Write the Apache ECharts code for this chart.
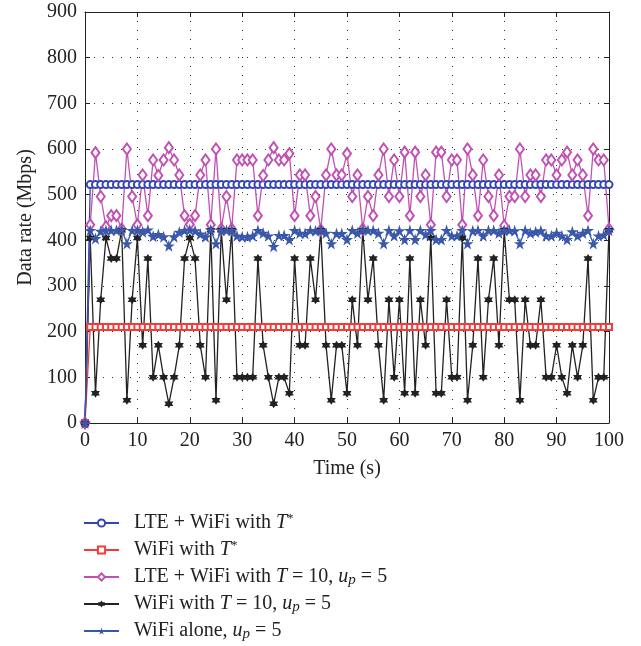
<!DOCTYPE html>
<html>
<head>
<meta charset="utf-8">
<script src="https://cdn.jsdelivr.net/npm/echarts@6/dist/echarts.min.js"></script>
<style>
html,body{margin:0;padding:0;background:#fff;}
#chart{width:641px;height:646px;}
</style>
</head>
<body>
<div id="chart"></div>
<script>
// ---- data ----
const time = [0,1,2,3,4,5,6,7,8,9,10,11,12,13,14,15,16,17,18,19,20,21,22,23,24,25,26,27,28,29,30,31,32,33,34,35,36,37,38,39,40,41,42,43,44,45,46,47,48,49,50,51,52,53,54,55,56,57,58,59,60,61,62,63,64,65,66,67,68,69,70,71,72,73,74,75,76,77,78,79,80,81,82,83,84,85,86,87,88,89,90,91,92,93,94,95,96,97,98,99,100];

const seriesNames = [
  'LTE + WiFi with T*',
  'WiFi with T*',
  'LTE + WiFi with T = 10, u_p = 5',
  'WiFi with T = 10, u_p = 5',
  'WiFi alone, u_p = 5'
];

const lteWifiOpt = [0,522,522,522,522,522,522,522,522,522,522,522,522,522,522,522,522,522,522,522,522,522,522,522,522,522,522,522,522,522,522,522,522,522,522,522,522,522,522,522,522,522,522,522,522,522,522,522,522,522,522,522,522,522,522,522,522,522,522,522,522,522,522,522,522,522,522,522,522,522,522,522,522,522,522,522,522,522,522,522,522,522,522,522,522,522,522,522,522,522,522,522,522,522,522,522,522,522,522,522,522];

const wifiOpt = [0,210,210,210,210,210,210,210,210,210,210,210,210,210,210,210,210,210,210,210,210,210,210,210,210,210,210,210,210,210,210,210,210,210,210,210,210,210,210,210,210,210,210,210,210,210,210,210,210,210,210,210,210,210,210,210,210,210,210,210,210,210,210,210,210,210,210,210,210,210,210,210,210,210,210,210,210,210,210,210,210,210,210,210,210,210,210,210,210,210,210,210,210,210,210,210,210,210,210,210,210];

const lteWifiT10 = [0,434,592,496,430,454,454,425,600,496,434,543,454,576,542,576,603,576,543,454,435,454,543,576,434,600,425,496,425,576,576,576,576,454,542,576,603,576,576,590,454,543,543,454,496,423,543,600,543,543,590,496,543,425,496,454,543,600,496,576,496,593,454,593,496,543,434,593,593,496,576,576,434,600,543,454,576,496,454,543,432,496,496,600,496,543,543,496,576,576,543,576,593,543,576,543,454,600,576,576,425];

const wifiT10 = [0,405,65,270,405,360,360,422,50,270,405,170,360,100,170,100,42,100,170,360,405,360,170,100,422,50,422,270,422,100,100,100,100,360,170,100,42,100,100,65,360,170,170,360,270,422,170,50,170,170,65,270,170,422,270,360,170,50,270,100,270,65,360,65,270,170,405,65,65,270,100,100,405,50,170,360,100,270,360,170,422,270,270,50,270,170,170,270,100,100,170,100,65,170,100,170,360,50,100,100,422];

const wifiAlone = [0,422,404,420,422,422,422,423,393,422,422,419,423,409,413,408,388,408,418,422,423,421,414,408,423,393,422,422,422,410,408,408,410,422,416,410,387,411,411,402,422,416,415,422,421,422,416,393,415,415,402,422,416,423,422,422,416,393,422,410,421,402,422,402,422,413,422,402,402,422,410,410,422,393,421,422,410,422,422,416,422,422,421,393,422,416,419,421,410,410,416,410,402,419,410,416,422,393,410,412,422];

const xTicks = {min: 0, max: 100, step: 10};
const yTicks = {min: 0, max: 900, step: 100};

// ---- chart ----
const FONT = 'Liberation Serif';
const AX = '#222';
const colors = ['#3446b4', '#f23c3c', '#c050b4', '#222222', '#3a58aa'];

const star5 = 'path://M50,0 L61,35 L98,35 L68,57 L79,91 L50,70 L21,91 L32,57 L2,35 L39,35 Z';
const star6 = 'path://M50,0 L64,25 L93,25 L79,50 L93,75 L64,75 L50,100 L36,75 L7,75 L21,50 L7,25 L36,25 Z';

function pairs(vals){ return time.map((t,i)=>[t, vals[i]]); }

const legendRich = {
  'LTE + WiFi with T*': 'LTE + WiFi with {i|T}{sup|*}',
  'WiFi with T*': 'WiFi with {i|T}{sup|*}',
  'LTE + WiFi with T = 10, u_p = 5': 'LTE + WiFi with {i|T} = 10, {i|u}{sub|p} = 5',
  'WiFi with T = 10, u_p = 5': 'WiFi with {i|T} = 10, {i|u}{sub|p} = 5',
  'WiFi alone, u_p = 5': 'WiFi alone, {i|u}{sub|p} = 5'
};

const symbols = [
  {symbol:'emptyCircle', size:7},
  {symbol:'emptyRect', size:6},
  {symbol:'emptyDiamond', size:[8,11]},
  {symbol:star6, size:9},
  {symbol:star5, size:12}
];
const dataSets = [lteWifiOpt, wifiOpt, lteWifiT10, wifiT10, wifiAlone];

const series = dataSets.map((d, k) => ({
  name: seriesNames[k],
  type: 'line',
  xAxisIndex: 0, yAxisIndex: 0,
  data: pairs(d),
  symbol: symbols[k].symbol,
  symbolSize: symbols[k].size,
  showAllSymbol: true,
  animation: false,
  lineStyle: {color: colors[k], width: 1.3},
  itemStyle: {color: colors[k], borderWidth: 1.2},
  emphasis: {disabled: true}
}));

const chart = echarts.init(document.getElementById('chart'), null, {renderer: 'canvas'});
chart.setOption({
  backgroundColor: '#fff',
  animation: false,
  grid: {left: 85, right: 32, top: 12, bottom: 223, containLabel: false},
  xAxis: [{
    type: 'value', min: xTicks.min, max: xTicks.max, interval: xTicks.step, position: 'bottom',
    name: 'Time (s)', nameLocation: 'middle', nameGap: 36,
    nameTextStyle: {fontFamily: FONT, fontSize: 20, color: AX},
    axisLine: {show: true, onZero: false, lineStyle: {color: AX, width: 1}},
    axisTick: {show: true, inside: true, length: 5, lineStyle: {color: AX}},
    axisLabel: {fontFamily: FONT, fontSize: 20, color: AX, margin: 8},
    splitLine: {show: true, lineStyle: {type: [1, 8], color: '#333', width: 1}}
  },{
    type: 'value', min: xTicks.min, max: xTicks.max, interval: xTicks.step, position: 'top',
    axisLine: {show: true, onZero: false, lineStyle: {color: AX, width: 1}},
    axisTick: {show: true, inside: true, length: 5, lineStyle: {color: AX}},
    axisLabel: {show: false}, splitLine: {show: false}
  }],
  yAxis: [{
    type: 'value', min: yTicks.min, max: yTicks.max, interval: yTicks.step, position: 'left',
    name: 'Data rate (Mbps)', nameLocation: 'middle', nameGap: 48,
    nameTextStyle: {fontFamily: FONT, fontSize: 20, color: AX},
    axisLine: {show: true, onZero: false, lineStyle: {color: AX, width: 1}},
    axisTick: {show: true, inside: true, length: 5, lineStyle: {color: AX}},
    axisLabel: {fontFamily: FONT, fontSize: 20, color: AX, margin: 8},
    splitLine: {show: true, lineStyle: {type: [1, 8], color: '#333', width: 1}}
  },{
    type: 'value', min: yTicks.min, max: yTicks.max, interval: yTicks.step, position: 'right',
    axisLine: {show: true, onZero: false, lineStyle: {color: AX, width: 1}},
    axisTick: {show: true, inside: true, length: 5, lineStyle: {color: AX}},
    axisLabel: {show: false}, splitLine: {show: false}
  }],
  legend: {
    orient: 'vertical', left: 83, top: 512, padding: 0,
    itemWidth: 35, itemHeight: 9, itemGap: 5,
    data: seriesNames,
    selectedMode: false,
    formatter: name => legendRich[name],
    textStyle: {
      fontFamily: FONT, fontSize: 20, color: AX, lineHeight: 22, padding: [0,0,0,10],
      rich: {
        i: {fontFamily: FONT, fontSize: 20, fontStyle: 'italic', color: AX, lineHeight: 22},
        sup: {fontFamily: FONT, fontSize: 13, color: AX, lineHeight: 10, verticalAlign: 'top'},
        sub: {fontFamily: FONT, fontSize: 15, fontStyle: 'italic', color: AX, lineHeight: 10, verticalAlign: 'bottom'}
      }
    }
  },
  series: series
});
</script>
</body>
</html>
